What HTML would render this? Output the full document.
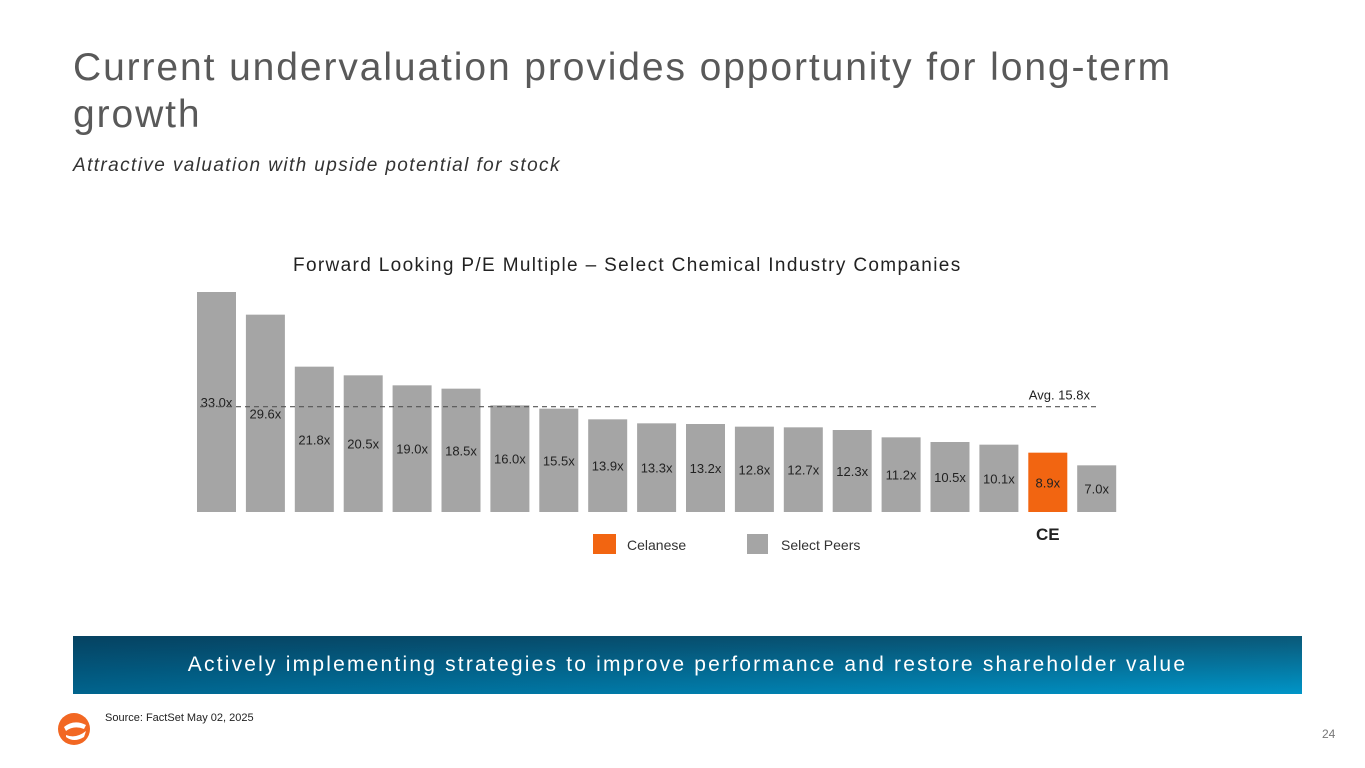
<!DOCTYPE html>
<html><head><meta charset="utf-8"><style>
body{margin:0;width:1365px;height:768px;background:#fff;position:relative;overflow:hidden;font-family:"Liberation Sans",sans-serif}
.abs{position:absolute}
</style></head><body>
<div class="abs" style="left:73px;top:44px;font-size:39px;color:#595959;line-height:47px;width:1250px;letter-spacing:1.9px">Current undervaluation provides opportunity for long-term<br>growth</div>
<div class="abs" style="left:73px;top:155px;font-size:19px;font-style:italic;color:#333;letter-spacing:1.4px">Attractive valuation with upside potential for stock</div>
<div class="abs" style="left:293px;top:255px;font-size:19px;color:#222;letter-spacing:1.35px">Forward Looking P/E Multiple – Select Chemical Industry Companies</div>
<svg class="abs" style="left:0;top:0" width="1365" height="600" id="chart"></svg>
<div class="abs" style="left:73px;top:636px;width:1229px;height:58px;background:linear-gradient(90deg,rgba(0,40,70,0.45),rgba(0,0,0,0)),linear-gradient(180deg,#0a5878,#0095c8);color:#fff;font-size:21px;text-align:center;line-height:58px;letter-spacing:2.2px">Actively implementing strategies to improve performance and restore shareholder value</div>
<svg class="abs" style="left:56px;top:711px" width="36" height="36"><circle cx="18" cy="18" r="16" fill="#f26722"/><path d="M8 16 Q18 8 30 14 L28 18 Q18 14 10 20Z M10 24 Q20 28 30 20 L28 26 Q18 32 10 26Z" fill="#fff"/></svg>
<div class="abs" style="left:105px;top:712px;font-size:11px;color:#222">Source: FactSet May 02, 2025</div>
<div class="abs" style="left:1322px;top:727px;font-size:12px;color:#777">24</div>
<script>
const values=[33.0,29.6,21.8,20.5,19.0,18.5,16.0,15.5,13.9,13.3,13.2,12.8,12.7,12.3,11.2,10.5,10.1,8.9,7.0];
const highlight=[false,false,false,false,false,false,false,false,false,false,false,false,false,false,false,false,false,true,false];
const avgValue=15.8;
const svg=document.getElementById('chart');const NS='http://www.w3.org/2000/svg';
const base=512,scale=220/33,x0=197,step=48.9,bw=39;
const y=v=>base-v*scale;const x=i=>x0+i*step;
function mk(t,a){const e=document.createElementNS(NS,t);for(const k in a)e.setAttribute(k,a[k]);svg.appendChild(e);return e;}
values.forEach((v,i)=>{
const r=mk('rect',{x:x(i),y:y(v),width:bw,height:v*scale,fill:highlight[i]?'#f26511':'#a5a5a5'});


const t=mk('text',{x:x(i)+bw/2,y:(y(v)+base)/2+5,'text-anchor':'middle','font-size':'13',fill:'#222','font-family':'Liberation Sans'});
t.textContent=v.toFixed(1)+'x';


});
const ln=mk('line',{x1:200,x2:1097,y1:y(avgValue),y2:y(avgValue),stroke:'#555','stroke-width':1.2,'stroke-dasharray':'5,4'});


const at=mk('text',{x:1090,y:y(avgValue)-7,'text-anchor':'end','font-size':'13',fill:'#222'});
at.textContent='Avg. '+avgValue.toFixed(1)+'x';


const hi=highlight.indexOf(true);
const ce=mk('text',{x:x(hi)+bw/2,y:540,'text-anchor':'middle','font-size':'17','font-weight':'bold',fill:'#222'});
ce.textContent='CE';


const l1=mk('rect',{x:593,y:534,width:23,height:20,fill:'#f26511'});


const lt1=mk('text',{x:627,y:550,'font-size':'14',fill:'#333'});lt1.textContent='Celanese';


const l2=mk('rect',{x:747,y:534,width:21,height:20,fill:'#a5a5a5'});


const lt2=mk('text',{x:781,y:550,'font-size':'14',fill:'#333'});lt2.textContent='Select Peers';


</script>
</body></html>
